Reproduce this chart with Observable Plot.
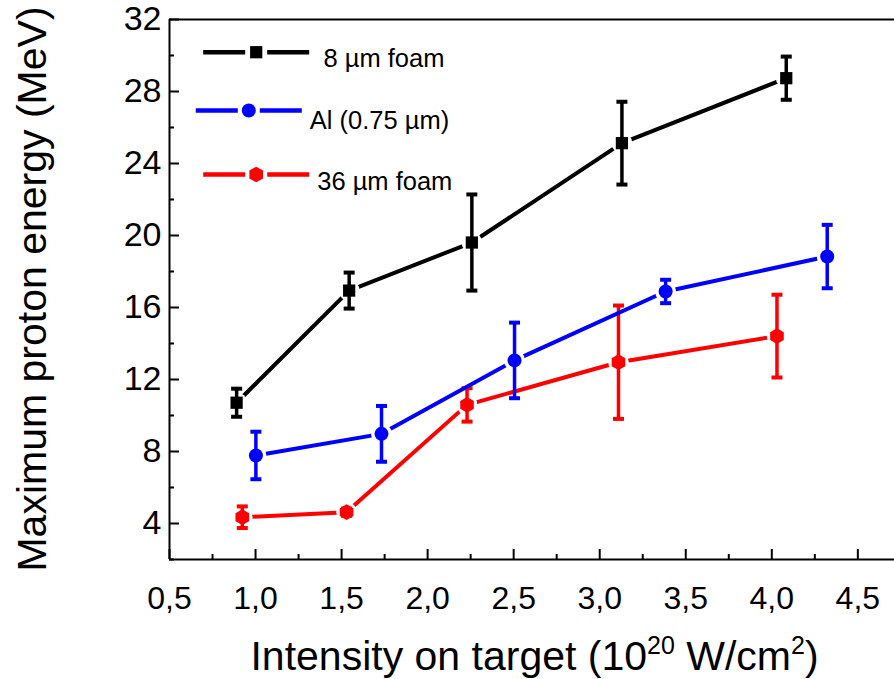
<!DOCTYPE html>
<html><head><meta charset="utf-8">
<script src="https://cdn.jsdelivr.net/npm/d3@7"></script>
<script src="https://cdn.jsdelivr.net/npm/@observablehq/plot@0.6"></script>
<style>
body{margin:0;background:#fff}
svg{font-family:"Liberation Sans",Arial,sans-serif}
</style>
</head><body><div id="chart"></div>
<script>
// ---- data ----
const seriesNames = ["8 \u00b5m foam", "Al (0.75 \u00b5m)", "36 \u00b5m foam"];
const intensityFoam8 = [0.89, 1.544, 2.257, 3.129, 4.084];
const energyFoam8    = [10.71, 16.94, 19.61, 25.13, 28.74];
const errorFoam8     = [0.78, 1.0, 2.67, 2.3, 1.2];
const intensityAl    = [1.002, 1.732, 2.505, 3.383, 4.322];
const energyAl       = [7.78, 8.98, 13.06, 16.89, 18.83];
const errorAl        = [1.32, 1.55, 2.1, 0.65, 1.76];
const intensityFoam36 = [0.923, 1.529, 2.229, 3.109, 4.03];
const energyFoam36    = [4.35, 4.63, 10.59, 12.96, 14.41];
const errorFoam36     = [0.6, 0.2, 0.93, 3.15, 2.3];
const xTicks = [0.5, 1.0, 1.5, 2.0, 2.5, 3.0, 3.5, 4.0, 4.5];
const xMinorTicks = [0.75, 1.25, 1.75, 2.25, 2.75, 3.25, 3.75, 4.25];
const yTicks = [4, 8, 12, 16, 20, 24, 28, 32];
const yMinorTicks = [2, 6, 10, 14, 18, 22, 26, 30];
const xDomain = [0.5, 4.713];
const yDomain = [2, 32];

// ---- styles ----
const W = 894, H = 679, ML = 169, MR = 0, MT = 19, MB = 120;
const innerW = W - ML - MR, innerH = H - MT - MB;
const styles = [
  {color: "#000000", symbol: "square", r: 6.9, lx: 86.7, ly: 32.7, tx: 154, ty: 39.5},
  {color: "#0000ff", symbol: "circle", r: 7, lx: 79.3, ly: 91, tx: 140.3, ty: 101},
  {color: "#ff0000", symbol: "hexagon", r: 6.8, lx: 86.7, ly: 155, tx: 147.7, ty: 162.5}
];
const seriesData = [
  {x: intensityFoam8, y: energyFoam8, e: errorFoam8},
  {x: intensityAl, y: energyAl, e: errorAl},
  {x: intensityFoam36, y: energyFoam36, e: errorFoam36}
];
const rowsOf = (k) => seriesData[k].x.map((x, i) => ({x, y: seriesData[k].y[i], e: seriesData[k].e[i]}));

const capSymbol = {draw(ctx) { ctx.moveTo(-5.5, 0); ctx.lineTo(5.5, 0); }};
const legendLine = {draw(ctx) { ctx.moveTo(-53, 0); ctx.lineTo(-11, 0); ctx.moveTo(11, 0); ctx.lineTo(53, 0); }};

function seriesMarks(k) {
  const s = styles[k], rows = rowsOf(k);
  return [
    Plot.line(rows, {x: "x", y: "y", stroke: s.color, strokeWidth: 4}),
    Plot.dot(rows, {x: "x", y: "y", symbol: "circle", r: s.r + 3.5, fill: "white", stroke: "none"}),
    Plot.ruleX(rows, {x: "x", y1: d => d.y - d.e, y2: d => d.y + d.e, stroke: s.color, strokeWidth: 3.5}),
    Plot.dot(rows, {x: "x", y: d => d.y - d.e, symbol: capSymbol, stroke: s.color, strokeWidth: 4, fill: "none"}),
    Plot.dot(rows, {x: "x", y: d => d.y + d.e, symbol: capSymbol, stroke: s.color, strokeWidth: 4, fill: "none"}),
    Plot.dot(rows, {x: "x", y: "y", symbol: s.symbol, r: s.r, fill: s.color, stroke: "none"}),
    // legend entry
    Plot.dot([seriesNames[k]], {frameAnchor: "top-left", dx: s.lx, dy: s.ly, symbol: legendLine, stroke: s.color, strokeWidth: 4.5, fill: "none"}),
    Plot.dot([seriesNames[k]], {frameAnchor: "top-left", dx: s.lx, dy: s.ly, symbol: s.symbol, r: s.r, fill: s.color, stroke: "none"}),
    Plot.text([seriesNames[k]], {frameAnchor: "top-left", dx: s.tx, dy: s.ty, text: d => d, textAnchor: "start", lineAnchor: "middle", fontSize: 25.5, fill: "black"})
  ];
}

const fmtX = d => d.toFixed(1).replace(".", ",");

const chart = Plot.plot({
  width: W, height: H,
  marginLeft: ML, marginRight: MR, marginTop: MT, marginBottom: MB,
  style: {fontSize: "30px", fontFamily: "'Liberation Sans', Arial, sans-serif", background: "white", color: "black", overflow: "visible"},
  x: {domain: xDomain, axis: null},
  y: {domain: yDomain, axis: null},
  marks: [
    // tick labels via the scales
    Plot.text(yTicks, {x: xDomain[0], y: d => d, text: d => String(d), textAnchor: "end", lineAnchor: "middle", dx: -8, fontSize: 34, fill: "black", clip: false}),
    Plot.text(xTicks, {x: d => d, y: yDomain[0], text: fmtX, textAnchor: "middle", lineAnchor: "top", dy: 27, fontSize: 32, fill: "black", clip: false}),
    // inward ticks
    Plot.tickY(yTicks, {y: d => d, insetRight: innerW - 10, stroke: "black", strokeWidth: 2}),
    Plot.tickY(yMinorTicks, {y: d => d, insetRight: innerW - 5, stroke: "black", strokeWidth: 2}),
    Plot.tickX(xTicks, {x: d => d, insetTop: innerH - 10, stroke: "black", strokeWidth: 2}),
    Plot.tickX(xMinorTicks, {x: d => d, insetTop: innerH - 5, stroke: "black", strokeWidth: 2}),
    // frame (left, top, bottom; right side is cut off in the reference)
    Plot.ruleX([xDomain[0]], {stroke: "black", strokeWidth: 2}),
    Plot.ruleY(yDomain, {stroke: "black", strokeWidth: 2}),
    ...seriesMarks(2),
    ...seriesMarks(1),
    ...seriesMarks(0)
  ]
});
document.getElementById("chart").appendChild(chart);

const svg = d3.select(chart.tagName.toLowerCase() === "svg" ? chart : chart.querySelector("svg"));
// axis titles with superscripts
const xt = svg.append("text")
  .attr("x", ML + innerW / 2 + 3).attr("y", 670)
  .attr("text-anchor", "middle").attr("font-size", 41).attr("fill", "black");
xt.append("tspan").text("Intensity on target (10");
xt.append("tspan").attr("font-size", 25).attr("dy", -16).text("20");
xt.append("tspan").attr("dy", 16).text(" W/cm");
xt.append("tspan").attr("font-size", 25).attr("dy", -16).text("2");
xt.append("tspan").attr("dy", 16).text(")");
svg.append("text")
  .attr("transform", `translate(46,${MT + innerH / 2}) rotate(-90)`)
  .attr("text-anchor", "middle").attr("font-size", 41).attr("fill", "black")
  .text("Maximum proton energy (MeV)");
</script>
</body></html>
